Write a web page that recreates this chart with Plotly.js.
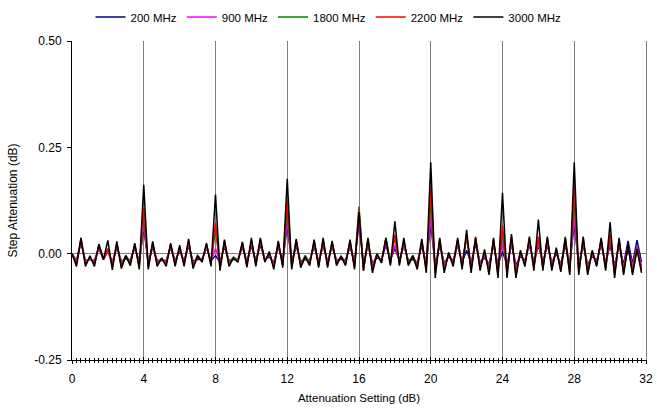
<!DOCTYPE html>
<html>
<head>
<meta charset="utf-8">
<script src="https://cdn.plot.ly/plotly-3.0.1.min.js"></script>
<style>html,body{margin:0;padding:0;background:#fff;}#chart{width:657px;height:409px;}</style>
</head>
<body>
<div id="chart"></div>
<script>
// Attenuation setting (dB), 0.25 dB steps
const setting = [
  0.00,0.25,0.50,0.75,1.00,1.25,1.50,1.75,2.00,2.25,2.50,2.75,3.00,3.25,3.50,3.75,
  4.00,4.25,4.50,4.75,5.00,5.25,5.50,5.75,6.00,6.25,6.50,6.75,7.00,7.25,7.50,7.75,
  8.00,8.25,8.50,8.75,9.00,9.25,9.50,9.75,10.00,10.25,10.50,10.75,11.00,11.25,11.50,11.75,
  12.00,12.25,12.50,12.75,13.00,13.25,13.50,13.75,14.00,14.25,14.50,14.75,15.00,15.25,15.50,15.75,
  16.00,16.25,16.50,16.75,17.00,17.25,17.50,17.75,18.00,18.25,18.50,18.75,19.00,19.25,19.50,19.75,
  20.00,20.25,20.50,20.75,21.00,21.25,21.50,21.75,22.00,22.25,22.50,22.75,23.00,23.25,23.50,23.75,
  24.00,24.25,24.50,24.75,25.00,25.25,25.50,25.75,26.00,26.25,26.50,26.75,27.00,27.25,27.50,27.75,
  28.00,28.25,28.50,28.75,29.00,29.25,29.50,29.75,30.00,30.25,30.50,30.75,31.00,31.25,31.50,31.75
];

const step200 = [
  0.000,-0.016,0.025,-0.016, -0.014,-0.016,0.012,-0.014, 0.006,-0.020,0.015,-0.018, -0.012,-0.015,0.014,-0.018,
  0.060,-0.020,0.015,-0.016, -0.016,-0.016,0.014,-0.016, 0.005,-0.016,0.018,-0.018, -0.014,-0.013,0.014,-0.016,
  -0.005,-0.020,0.016,-0.016, -0.014,-0.013,0.015,-0.018, 0.018,-0.016,0.020,-0.013, -0.008,-0.020,0.016,-0.018,
  0.065,-0.020,0.018,-0.018, -0.014,-0.015,0.016,-0.018, 0.018,-0.018,0.016,-0.015, -0.013,-0.015,0.016,-0.020,
  0.070,-0.024,0.020,-0.022, -0.010,-0.013,0.020,-0.015, 0.012,-0.015,0.018,-0.015, -0.014,-0.020,0.018,-0.022,
  0.070,-0.028,0.020,-0.022, -0.008,-0.016,0.020,-0.020, 0.008,-0.022,0.022,-0.020, -0.010,-0.024,0.020,-0.026,
  0.005,-0.026,0.022,-0.026, -0.006,-0.016,0.020,-0.020, 0.020,-0.020,0.020,-0.020, 0.000,-0.024,0.020,-0.026,
  0.070,-0.026,0.020,-0.026, -0.006,-0.016,0.020,-0.020, 0.020,-0.028,0.020,-0.026, 0.030,-0.024,0.032,-0.020
];

const step900 = [
  0.000,-0.018,0.028,-0.018, -0.012,-0.018,0.015,-0.014, 0.008,-0.022,0.018,-0.020, -0.010,-0.016,0.016,-0.020,
  0.070,-0.022,0.018,-0.018, -0.014,-0.018,0.016,-0.018, 0.008,-0.018,0.022,-0.020, -0.010,-0.014,0.016,-0.018,
  0.012,-0.022,0.020,-0.018, -0.012,-0.014,0.018,-0.020, 0.022,-0.018,0.025,-0.014, -0.004,-0.022,0.020,-0.020,
  0.075,-0.022,0.022,-0.020, -0.012,-0.017,0.020,-0.020, 0.022,-0.020,0.020,-0.017, -0.010,-0.017,0.020,-0.022,
  0.080,-0.028,0.025,-0.026, -0.006,-0.015,0.025,-0.017, 0.020,-0.017,0.022,-0.017, -0.010,-0.022,0.022,-0.026,
  0.085,-0.032,0.024,-0.026, -0.004,-0.018,0.024,-0.022, 0.040,-0.026,0.028,-0.024, -0.004,-0.028,0.024,-0.032,
  0.025,-0.032,0.026,-0.032, -0.002,-0.018,0.025,-0.024, 0.026,-0.024,0.025,-0.024, 0.004,-0.028,0.026,-0.032,
  0.085,-0.032,0.025,-0.032, -0.002,-0.018,0.024,-0.024, 0.030,-0.034,0.024,-0.032, 0.018,-0.030,0.018,-0.028
];

const step1800 = [
  0.000,-0.022,0.032,-0.022, -0.010,-0.022,0.018,-0.012, 0.012,-0.027,0.022,-0.026, -0.004,-0.020,0.020,-0.027,
  0.090,-0.028,0.022,-0.022, -0.012,-0.022,0.020,-0.022, 0.012,-0.022,0.027,-0.026, -0.004,-0.016,0.020,-0.022,
  0.058,-0.030,0.026,-0.022, -0.008,-0.016,0.022,-0.024, 0.027,-0.022,0.030,-0.016, 0.000,-0.028,0.024,-0.025,
  0.100,-0.028,0.028,-0.025, -0.004,-0.021,0.026,-0.025, 0.028,-0.025,0.024,-0.021, -0.005,-0.021,0.026,-0.028,
  0.111,-0.034,0.032,-0.034, 0.000,-0.018,0.037,-0.021, 0.040,-0.021,0.027,-0.021, -0.004,-0.028,0.028,-0.034,
  0.125,-0.040,0.030,-0.034, 0.000,-0.023,0.030,-0.028, 0.038,-0.034,0.036,-0.030, 0.003,-0.036,0.030,-0.042,
  0.050,-0.042,0.035,-0.042, 0.004,-0.023,0.032,-0.030, 0.034,-0.030,0.032,-0.030, 0.008,-0.035,0.040,-0.042,
  0.125,-0.040,0.032,-0.040, 0.004,-0.023,0.030,-0.030, 0.038,-0.044,0.030,-0.040, 0.015,-0.040,0.014,-0.035
];

const step2200 = [
  0.000,-0.025,0.037,-0.025, -0.008,-0.025,0.020,-0.012, 0.010,-0.030,0.025,-0.030, -0.008,-0.022,0.022,-0.030,
  0.107,-0.032,0.026,-0.025, -0.012,-0.025,0.022,-0.025, 0.015,-0.025,0.030,-0.030, -0.008,-0.018,0.022,-0.025,
  0.073,-0.035,0.030,-0.025, -0.012,-0.018,0.025,-0.028, 0.030,-0.025,0.034,-0.018, 0.002,-0.032,0.027,-0.028,
  0.123,-0.032,0.032,-0.028, -0.010,-0.024,0.030,-0.028, 0.032,-0.028,0.027,-0.024, -0.008,-0.024,0.030,-0.032,
  0.104,-0.040,0.034,-0.038, -0.003,-0.020,0.034,-0.024, 0.045,-0.024,0.030,-0.024, -0.008,-0.032,0.032,-0.038,
  0.155,-0.045,0.034,-0.038, 0.000,-0.026,0.034,-0.032, 0.045,-0.038,0.040,-0.034, 0.005,-0.042,0.034,-0.048,
  0.066,-0.048,0.040,-0.048, 0.005,-0.026,0.036,-0.034, 0.040,-0.034,0.036,-0.034, 0.010,-0.040,0.034,-0.045,
  0.155,-0.045,0.036,-0.045, 0.005,-0.026,0.034,-0.035, 0.045,-0.050,0.034,-0.045, 0.018,-0.045,0.012,-0.040
];

const step3000 = [
  0.000,-0.030,0.037,-0.030, -0.005,-0.030,0.023,-0.014, 0.031,-0.038,0.029,-0.035, -0.005,-0.028,0.025,-0.037,
  0.162,-0.037,0.029,-0.030, -0.010,-0.030,0.025,-0.030, 0.020,-0.030,0.035,-0.035, -0.005,-0.020,0.025,-0.030,
  0.139,-0.040,0.033,-0.030, -0.010,-0.020,0.028,-0.032, 0.037,-0.030,0.037,-0.020, 0.005,-0.037,0.030,-0.033,
  0.176,-0.037,0.035,-0.033, -0.007,-0.028,0.033,-0.033, 0.037,-0.033,0.030,-0.028, -0.006,-0.028,0.033,-0.037,
  0.098,-0.040,0.037,-0.045, 0.000,-0.022,0.037,-0.028, 0.076,-0.028,0.037,-0.028, -0.005,-0.037,0.035,-0.045,
  0.215,-0.057,0.037,-0.045, 0.003,-0.030,0.037,-0.037, 0.056,-0.045,0.037,-0.040, 0.010,-0.050,0.037,-0.057,
  0.143,-0.057,0.046,-0.057, 0.008,-0.030,0.040,-0.040, 0.080,-0.040,0.040,-0.040, 0.014,-0.043,0.037,-0.050,
  0.215,-0.050,0.040,-0.050, 0.008,-0.030,0.037,-0.040, 0.074,-0.057,0.037,-0.050, 0.021,-0.050,0.010,-0.045
];

const seriesNames = ['200 MHz','900 MHz','1800 MHz','2200 MHz','3000 MHz'];
const seriesData = [step200, step900, step1800, step2200, step3000];
const seriesColors = ['#000080','#ff00ff','#008000','#ff0000','#000000'];

const xTickVals = [0,4,8,12,16,20,24,28,32];
const yTickVals = [-0.25,0,0.25,0.5];
const yTickText = ['-0.25','0.00','0.25','0.50'];

const traces = seriesNames.map((n,i)=>({
  type:'scatter', mode:'lines', name:n, x:setting, y:seriesData[i],
  line:{color:seriesColors[i], width:1.5}
}));

const fam = 'Liberation Sans, Arial, sans-serif';
const font = {family:fam, color:'#000', size:12};

const layout = {
  width:657, height:409,
  margin:{l:72, r:11, t:41, b:49},
  paper_bgcolor:'#fff', plot_bgcolor:'#fff',
  font:font,
  showlegend:true,
  legend:{orientation:'h', x:0.5, xref:'container', xanchor:'center',
          y:1-17/409, yref:'container', yanchor:'middle',
          font:{family:fam, size:11.5, color:'#000'}, itemwidth:30, tracegroupgap:0},
  xaxis:{
    range:[0,32], tickvals:xTickVals, ticktext:xTickVals.map(String),
    showgrid:true, gridcolor:'#808080', gridwidth:1,
    zeroline:false, showline:true, linecolor:'#000', linewidth:1,
    ticks:'outside', ticklen:3, tickcolor:'#000', ticklabelstandoff:5,
    minor:{dtick:0.25, tick0:0, ticks:'outside', ticklen:2, tickcolor:'#000', showgrid:false},
    title:{text:'Attenuation Setting (dB)', font:{family:fam, size:11.5}, standoff:8},
    tickfont:{size:12}
  },
  xaxis2:{
    range:[0,32], overlaying:'x', anchor:'y', side:'bottom',
    tickvals:xTickVals, showticklabels:false, showgrid:false,
    zeroline:false, showline:false,
    ticks:'inside', ticklen:3, tickcolor:'#000',
    minor:{dtick:0.25, tick0:0, ticks:'inside', ticklen:2, tickcolor:'#000', showgrid:false}
  },
  yaxis:{
    range:[-0.25,0.5], tickvals:yTickVals, ticktext:yTickText,
    showgrid:false, zeroline:true, zerolinecolor:'#808080', zerolinewidth:1,
    showline:true, linecolor:'#000', linewidth:1,
    ticks:'outside', ticklen:4, tickcolor:'#000', ticklabelstandoff:3,
    title:{text:'Step Attenuation (dB)', font:{family:fam, size:12}, standoff:14},
    tickfont:{size:12}
  },
  yaxis2:{
    range:[-0.25,0.5], overlaying:'y', anchor:'x', side:'right',
    showticklabels:false, ticks:'', showgrid:false, zeroline:false,
    showline:true, linecolor:'#808080', linewidth:1
  }
};

traces.unshift({type:'scatter', mode:'lines', x:[], y:[], xaxis:'x2', yaxis:'y', showlegend:false, hoverinfo:'skip'});
traces.unshift({type:'scatter', mode:'lines', x:[], y:[], xaxis:'x', yaxis:'y2', showlegend:false, hoverinfo:'skip'});

Plotly.newPlot('chart', traces, layout, {staticPlot:true, displayModeBar:false});
</script>
</body>
</html>
